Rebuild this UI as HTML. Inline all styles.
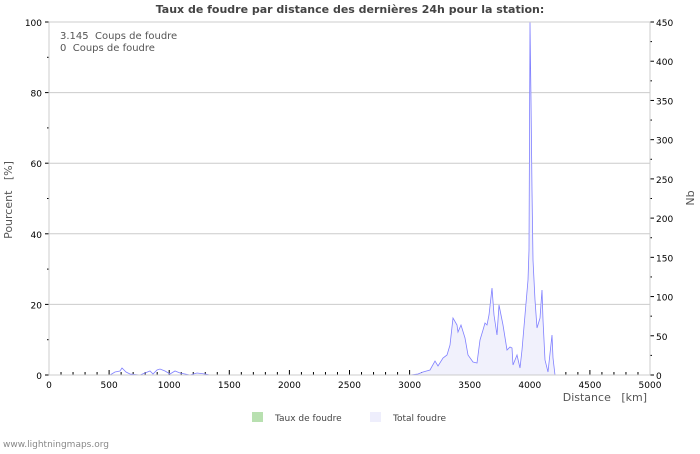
<!DOCTYPE html>
<html><head><meta charset="utf-8"><style>
body{margin:0;background:#fff;width:700px;height:450px;overflow:hidden;font-family:"DejaVu Sans","Liberation Sans",sans-serif}
text{white-space:pre}
</style></head><body>
<svg id="s" width="700" height="450" xmlns="http://www.w3.org/2000/svg" font-family="DejaVu Sans, Liberation Sans, sans-serif">
<text x="350" y="13" text-anchor="middle" font-size="11" font-weight="bold" fill="#444">Taux de foudre par distance des dernières 24h pour la station:</text>
<g id="grid"></g>
<polygon fill="#f1f1fc" stroke="#8080ff" stroke-width="0.8" points="49,375 410,375 418,374 423,372 430,370 435,361 438,366 443,358 447,355 450,345 453,318 457,325 458,332 461,325 465,338 468,355 473,362 477,363 480,340 483,330 485,323 487,325 489,315 492,288 494,315 497,335 499,305 503,325 507,350 510,347 512,348 513,365 517,355 520,368 522,350 525,315 528,280 529,250 530,22 531,100 532,190 533,260 535,300 537,328 540,318 542,290 543,320 545,360 548,372 552,335 553,358 555,375 650,375"/>
<polyline fill="none" stroke="#8080ff" stroke-width="0.8" points="110,375 115,372 120,371 122,368 126,372 130,374 140,375 150,371 153,374 157,370 160,369 165,371 170,374 175,371 180,373 190,375 197,373 205,374 210,375"/>
<rect x="49" y="22" width="601" height="353" fill="none" stroke="#ccc"/>
<text x="60" y="39" font-size="10" fill="#555">3.145  Coups de foudre</text>
<text x="60" y="51" font-size="10" fill="#555">0  Coups de foudre</text>
<text transform="translate(12,200) rotate(-90)" text-anchor="middle" font-size="11" fill="#555">Pourcent   [%]</text>
<text transform="translate(694,198) rotate(-90)" text-anchor="middle" font-size="11" fill="#555">Nb</text>
<text x="647" y="401" text-anchor="end" font-size="11" fill="#555">Distance   [km]</text>
<rect x="252" y="412" width="11" height="10" fill="#b8e0b0"/>
<text x="275" y="421" font-size="9" fill="#444">Taux de foudre</text>
<rect x="370" y="412" width="11" height="10" fill="#eeeefc"/>
<text x="393" y="421" font-size="9" fill="#444">Total foudre</text>
<text x="3" y="447" font-size="9" fill="#888">www.lightningmaps.org</text>
</svg>
<script>
var g=document.getElementById('grid'),h='';
function X(v){return 49+v*601/5000}
for(var p=20;p<=80;p+=20){var y=375-p*3.53;h+='<line x1="49" x2="650" y1="'+y+'" y2="'+y+'" stroke="#ccc"/>'}
for(var p=0;p<=100;p+=10){var y=375-p*3.53;h+='<line x1="'+(p%20?47:45)+'" x2="49" y1="'+y+'" y2="'+y+'" stroke="#000"/>';if(p%20==0)h+='<text x="42" y="'+(y+4)+'" text-anchor="end" font-size="9">'+p+'</text>'}
for(var n=0;n<=450;n+=25){var y=375-n*353/450;h+='<line x1="650" x2="'+(n%50?652:654)+'" y1="'+y+'" y2="'+y+'" stroke="#000"/>';if(n%50==0)h+='<text x="656" y="'+(y+4)+'" font-size="9">'+n+'</text>'}
for(var k=0;k<=5000;k+=100){var x=X(k);h+='<line x1="'+x+'" x2="'+x+'" y1="375" y2="'+(k%500?372:370)+'" stroke="#000"/>';if(k%500==0)h+='<text x="'+x+'" y="388" text-anchor="middle" font-size="9">'+k+'</text>'}
g.innerHTML=h;
</script>
</body></html>
